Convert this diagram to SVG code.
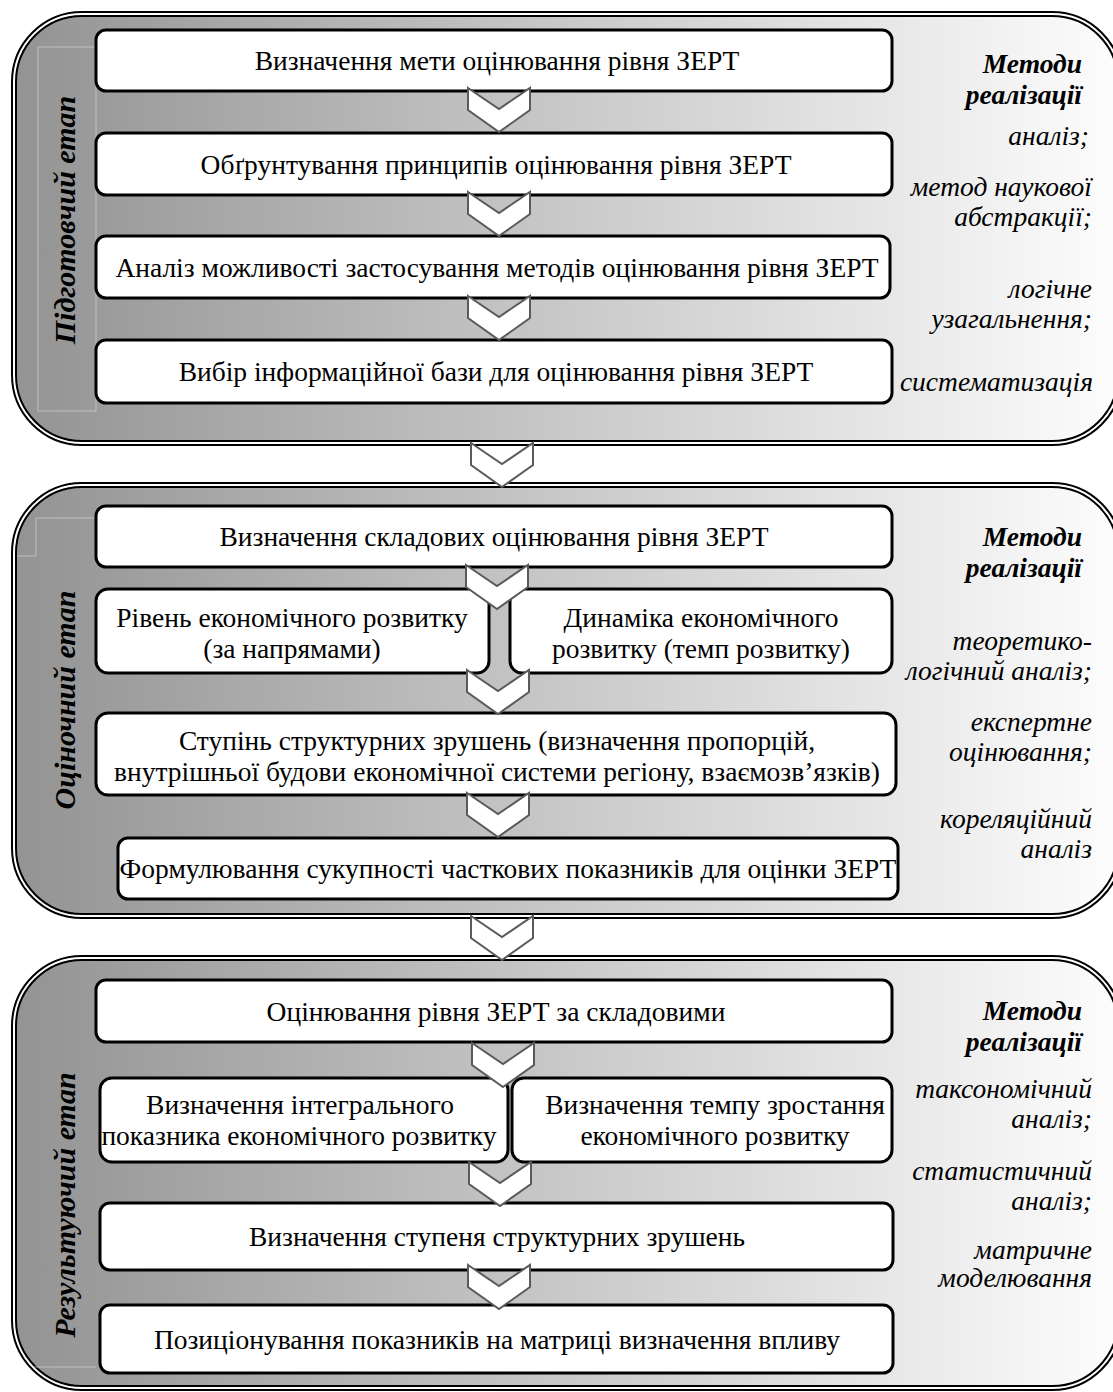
<svg xmlns="http://www.w3.org/2000/svg" xmlns:xlink="http://www.w3.org/1999/xlink" width="1113" height="1392" viewBox="0 0 1113 1392">
<style>
.panel{fill:url(#pg);stroke:#000;stroke-width:6}
.pin{fill:none;stroke:#fff;stroke-width:2}
.box{fill:#fff;stroke:#000;stroke-width:3}
.t{font-family:"Liberation Serif","Times New Roman",serif;font-size:27.5px;fill:#000;text-anchor:middle}
.m{font-family:"Liberation Serif","Times New Roman",serif;font-size:27.5px;font-style:italic;fill:#000;text-anchor:end}
.mh{font-family:"Liberation Serif","Times New Roman",serif;font-size:27.5px;font-style:italic;font-weight:bold;fill:#000;text-anchor:end}
.lbl{font-family:"Liberation Serif","Times New Roman",serif;font-size:30px;font-style:italic;font-weight:bold;fill:#000;text-anchor:middle}
.chev{fill:#fff;stroke:#5a5a5a;stroke-width:2;stroke-linejoin:miter}
.faint{fill:none;stroke:#dcdcdc;stroke-width:1;opacity:0.6}
</style>
<defs>
<linearGradient id="pg" x1="0" y1="0" x2="1" y2="0">
<stop offset="0" stop-color="#939393"/>
<stop offset="0.5" stop-color="#c9c9c9"/>
<stop offset="1" stop-color="#fdfdfd"/>
</linearGradient>
<path id="chev" d="M-31,0 L0,21 L31,0 L31,22 L0,44 L-31,22 Z"/>
</defs>

<g id="panel1">
<path class="panel" d="M82,14 H1052 A68 68 0 0 1 1120,82 V375 A68 68 0 0 1 1052,443 H82 A68 68 0 0 1 14,375 V82 A68 68 0 0 1 82,14 Z"/>
<path class="pin" d="M82,14 H1052 A68 68 0 0 1 1120,82 V375 A68 68 0 0 1 1052,443 H82 A68 68 0 0 1 14,375 V82 A68 68 0 0 1 82,14 Z"/>
<rect class="faint" x="38" y="47" width="58" height="364"/>
<text class="lbl" transform="translate(75,220) rotate(-90)">Підготовчий етап</text>
<text class="mh" x="1082" y="73">Методи</text>
<text class="mh" x="1082" y="104">реалізації</text>
<text class="m" x="1089" y="145">аналіз;</text>
<text class="m" x="1092" y="196">метод наукової</text>
<text class="m" x="1092" y="226">абстракції;</text>
<text class="m" x="1092" y="298">логічне</text>
<text class="m" x="1092" y="328">узагальнення;</text>
<text class="m" x="1093" y="391">систематизація</text>
</g>

<g id="panel2">
<path class="panel" d="M82,485 H1052 A68 68 0 0 1 1120,553 V848 A68 68 0 0 1 1052,916 H82 A68 68 0 0 1 14,848 V553 A68 68 0 0 1 82,485 Z"/>
<path class="pin" d="M82,485 H1052 A68 68 0 0 1 1120,553 V848 A68 68 0 0 1 1052,916 H82 A68 68 0 0 1 14,848 V553 A68 68 0 0 1 82,485 Z"/>
<path class="faint" d="M96,518 H36 V556 H17"/>
<text class="lbl" transform="translate(75,700) rotate(-90)">Оціночний етап</text>
<text class="mh" x="1082" y="546">Методи</text>
<text class="mh" x="1082" y="577">реалізації</text>
<text class="m" x="1092" y="650">теоретико-</text>
<text class="m" x="1092" y="680">логічний аналіз;</text>
<text class="m" x="1092" y="731">експертне</text>
<text class="m" x="1092" y="761">оцінювання;</text>
<text class="m" x="1092" y="828">кореляційний</text>
<text class="m" x="1092" y="858">аналіз</text>
</g>

<g id="panel3">
<path class="panel" d="M82,958 H1052 A68 68 0 0 1 1120,1026 V1320 A68 68 0 0 1 1052,1388 H82 A68 68 0 0 1 14,1320 V1026 A68 68 0 0 1 82,958 Z"/>
<path class="pin" d="M82,958 H1052 A68 68 0 0 1 1120,1026 V1320 A68 68 0 0 1 1052,1388 H82 A68 68 0 0 1 14,1320 V1026 A68 68 0 0 1 82,958 Z"/>
<path class="faint" d="M33,1367 H96"/>
<text class="lbl" transform="translate(75,1205) rotate(-90)">Результуючий етап</text>
<text class="mh" x="1082" y="1020">Методи</text>
<text class="mh" x="1082" y="1051">реалізації</text>
<text class="m" x="1092" y="1098">таксономічний</text>
<text class="m" x="1092" y="1128">аналіз;</text>
<text class="m" x="1092" y="1180">статистичний</text>
<text class="m" x="1092" y="1210">аналіз;</text>
<text class="m" x="1092" y="1259">матричне</text>
<text class="m" x="1092" y="1287">моделювання</text>
</g>

<g id="p1b1"><rect class="box" x="96" y="30" width="796" height="61" rx="10"/><text class="t" x="497" y="70">Визначення мети оцінювання рівня ЗЕРТ</text></g>
<g id="p1b2"><rect class="box" x="96" y="133" width="796" height="62" rx="10"/><text class="t" x="496" y="174">Обґрунтування принципів оцінювання рівня ЗЕРТ</text></g>
<g id="p1b3"><rect class="box" x="96" y="236" width="794" height="62" rx="10"/><text class="t" x="497" y="277">Аналіз можливості застосування методів оцінювання рівня ЗЕРТ</text></g>
<g id="p1b4"><rect class="box" x="96" y="340" width="796" height="63" rx="10"/><text class="t" x="496" y="381">Вибір інформаційної бази для оцінювання рівня ЗЕРТ</text></g>

<g id="p2b1"><rect class="box" x="96" y="506" width="796" height="61" rx="10"/><text class="t" x="494" y="546">Визначення складових оцінювання рівня ЗЕРТ</text></g>
<g id="p2b2"><rect class="box" x="96" y="589" width="393" height="84" rx="12"/><text class="t" x="292" y="627">Рівень економічного розвитку</text><text class="t" x="292" y="658">(за напрямами)</text></g>
<g id="p2b3"><rect class="box" x="510" y="589" width="382" height="84" rx="12"/><text class="t" x="701" y="627">Динаміка економічного</text><text class="t" x="701" y="658">розвитку (темп розвитку)</text></g>
<g id="p2b4"><rect class="box" x="96" y="713" width="800" height="82" rx="12"/><text class="t" x="497" y="750">Ступінь структурних зрушень (визначення пропорцій,</text><text class="t" x="497" y="781">внутрішньої будови економічної системи регіону, взаємозв’язків)</text></g>
<g id="p2b5"><rect class="box" x="118" y="838" width="780" height="61" rx="10"/><text class="t" x="508" y="878">Формулювання сукупності часткових показників для оцінки ЗЕРТ</text></g>

<g id="p3b1"><rect class="box" x="96" y="980" width="796" height="62" rx="10"/><text class="t" x="496" y="1021">Оцінювання рівня ЗЕРТ за складовими</text></g>
<g id="p3b2"><rect class="box" x="100" y="1078" width="408" height="84" rx="12"/><text class="t" x="300" y="1114">Визначення інтегрального</text><text class="t" x="299" y="1145">показника економічного розвитку</text></g>
<g id="p3b3"><rect class="box" x="512" y="1078" width="380" height="84" rx="12"/><text class="t" x="715" y="1114">Визначення темпу зростання</text><text class="t" x="715" y="1145">економічного розвитку</text></g>
<g id="p3b4"><rect class="box" x="100" y="1203" width="793" height="67" rx="10"/><text class="t" x="497" y="1246">Визначення ступеня структурних зрушень</text></g>
<g id="p3b5"><rect class="box" x="100" y="1305" width="793" height="68" rx="10"/><text class="t" x="497" y="1349">Позиціонування показників на матриці визначення впливу</text></g>

<g id="connectors">
<use href="#chev" class="chev" x="499" y="88"/>
<use href="#chev" class="chev" x="499" y="192"/>
<use href="#chev" class="chev" x="499" y="296"/>
<use href="#chev" class="chev" x="502" y="443"/>
<use href="#chev" class="chev" x="497" y="565"/>
<use href="#chev" class="chev" x="498" y="670"/>
<use href="#chev" class="chev" x="498" y="793"/>
<use href="#chev" class="chev" x="502" y="916"/>
<use href="#chev" class="chev" x="503" y="1043"/>
<use href="#chev" class="chev" x="500" y="1162"/>
<use href="#chev" class="chev" x="499" y="1265"/>
</g>
</svg>
